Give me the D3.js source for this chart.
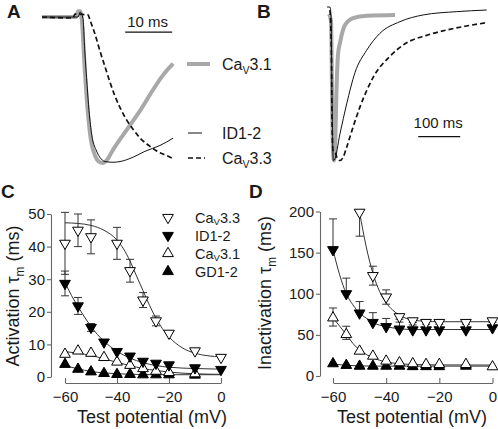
<!DOCTYPE html>
<html><head><meta charset="utf-8">
<script src="https://cdn.jsdelivr.net/npm/d3@7"></script>
<style>body{margin:0;background:#fff}svg{display:block}text{font-family:"Liberation Sans",Arial,Helvetica,sans-serif;fill:#1a1a1a}</style>
</head><body><svg id="c" width="498" height="429"></svg>
<script>
// ---------------- DATA ----------------
// Panel A: currents (time in ms, current normalised to peak)
const aCav31T = [0, 7.2, 7.7, 8.1, 8.5, 9.1, 9.8, 10.4, 11.3, 12.1, 13.0, 13.8, 15.1, 18.1, 20.9, 23.6, 25.7, 27.9];
const aCav31I = [0, 0, 0.04, 0.04, -0.03, -0.36, -0.67, -0.84, -0.95, -0.99, -1.0, -0.98, -0.91, -0.77, -0.64, -0.5, -0.4, -0.32];
const aId12T = [0, 7.7, 8.1, 8.7, 9.1, 9.6, 10.0, 10.6, 11.5, 12.3, 13.4, 15.1, 16.6, 19.4, 21.9, 25.1, 27.9];
const aId12I = [0, 0, 0.034, -0.007, -0.23, -0.47, -0.64, -0.81, -0.91, -0.96, -0.99, -0.995, -0.99, -0.96, -0.92, -0.88, -0.83];
const aCav33T = [0, 6.6, 7.0, 9.8, 10.2, 11.3, 12.3, 13.4, 14.5, 15.5, 16.6, 18.1, 19.4, 20.9, 22.3, 23.6, 25.1, 26.6, 27.9];
const aCav33I = [0, -0.007, 0.02, 0.014, -0.02, -0.12, -0.23, -0.34, -0.45, -0.54, -0.62, -0.71, -0.77, -0.83, -0.87, -0.90, -0.93, -0.95, -0.97];
const aScaleBar = [17.7, 27.7]; // 10 ms

// Panel B: currents (time in ms, normalised current)
const bCav31T = [-2.4, 2.4, 4.8, 7.1, 9.5, 11.9, 16, 19, 23.8, 35.7, 54.8, 88, 154.8];
const bCav31I = [-0.007, -0.05, -0.52, -0.92, -0.99, -0.92, -0.47, -0.28, -0.2, -0.08, -0.034, -0.018, -0.013];
const bId12T = [-7, 0, 2.4, 4.8, 7.9, 10.3, 23.8, 39.7, 59.5, 87.3, 119, 166.7, 222, 301.6, 373];
const bId12I = [0.04, 0.04, -0.02, -0.58, -0.99, -0.987, -0.81, -0.61, -0.40, -0.25, -0.136, -0.058, -0.013, 0.009, 0.02];
const bCav33T = [0, 3.6, 4.8, 7.1, 11.9, 16.7, 23.8, 31, 39.8, 55.5, 71.4, 87.4, 103, 142.9, 182.6, 230, 277.9, 325.5, 373];
const bCav33I = [0.02, -0.32, -0.72, -0.92, -0.93, -0.97, -0.99, -0.97, -0.90, -0.76, -0.63, -0.52, -0.43, -0.29, -0.20, -0.15, -0.114, -0.087, -0.065];
const bScaleBar = [210, 310]; // 100 ms

// Panel C: activation tau (ms) vs test potential (mV)
const cAllV = [-60, -55, -50, -45, -40, -35, -30, -25, -20, -10, 0];
const cCav33V = [-60, -55, -50, -40, -35, -30, -25, -20, -10, 0];
const cCav33 = [41, 45, 43, 41, 32.6, 23.6, 17.2, 13.4, 8, 6];
const cCav33Err = [9.5, 5, 5.2, 4.9, 3.5, 2.3, 1.5, 0, 0, 0];
const cId12 = [28.7, 21.8, 15.2, 10.7, 7.8, 6.4, 4.8, 4.2, 3.7, 2.8, 2.3];
const cId12Err = [3.8, 2.6, 1.2, 0, 0, 0, 0, 0, 0, 0, 0];
const cCav31V = [-60, -55, -50, -45, -40, -35, -30, -25, -20, -10];
const cCav31 = [7, 8, 7.3, 6, 4.6, 3.6, 2.6, 1.8, 1.4, 1.0];
const cGd12V = [-60, -55, -50, -45, -40, -35, -30, -25, -20, -10];
const cGd12 = [3.9, 2.4, 1.6, 1.1, 0.8, 0.8, 0.7, 0.7, 0.7, 0.6];
// fitted curves
const cFitCav33V = [-60, -55, -50, -45, -40, -37.5, -35, -32.5, -30, -27.5, -25, -22.5, -20, -15, -10, -5, 0];
const cFitCav33 = [47.3, 47.1, 46.5, 45, 42, 39.3, 35.6, 31, 26.5, 22, 18, 14.8, 12.3, 9, 7.3, 6.5, 6.2];
const cFitId12V = [-60, -57.5, -55, -52.5, -50, -47.5, -45, -42.5, -40, -35, -30, -25, -20, -10, 0];
const cFitId12 = [29, 25, 21.6, 18.4, 15.5, 13, 11, 9.3, 7.9, 5.8, 4.4, 3.5, 3, 2.6, 2.4];
const cFitCav31V = [-60, -55, -50, -45, -40, -35, -30, -25, -20, -10, 0];
const cFitCav31 = [7.8, 7.3, 6.6, 5.6, 4.5, 3.5, 2.6, 2.0, 1.5, 1.0, 0.8];
const cFitGd12V = [-60, -55, -50, -45, -40, -35, -30, -20, 0];
const cFitGd12 = [3.5, 2.5, 1.7, 1.25, 1.0, 0.85, 0.75, 0.7, 0.7];
const cYTicks = [0, 10, 20, 30, 40, 50];
const cXTicks = [-60, -40, -20, 0];

// Panel D: inactivation tau (ms) vs test potential (mV)
const dAllV = [-60, -55, -50, -45, -40, -35, -30, -25, -20, -10, 0];
const dCav33V = [-50, -45, -40, -35, -30, -25, -20, -10, 0];
const dCav33 = [199, 122, 96, 72, 67, 65, 65, 65, 67];
const dCav33ErrHi = [0, 11.5, 8.7, 3, 2, 2, 2, 2, 2];
const dCav33ErrLo = [29, 11.5, 8.7, 3, 2, 2, 2, 2, 2];
const dId12 = [153.5, 100, 76.5, 65, 60, 57, 56, 56, 56, 56, 58.5];
const dId12ErrHi = [37.5, 19, 14, 12, 10, 8.5, 6, 0, 0, 0, 0];
const dCav31 = [70.7, 50.5, 30.3, 24.2, 18.2, 16.2, 15, 14.1, 14.1, 14.1, 11.3];
const dCav31ErrHi = [12, 10, 0, 0, 0, 0, 0, 0, 0, 0, 0];
const dCav31ErrLo = [10, 6, 0, 0, 0, 0, 0, 0, 0, 0, 0];
const dGd12V = [-60, -55, -50, -45, -40, -35, -30, -25, -20, -10];
const dGd12 = [15, 13, 12, 12, 12, 12, 11.5, 11.5, 11.5, 12];
const dFitCav33V = [-50, -47.5, -45, -42.5, -40, -37.5, -35, -30, -25, -20, -10, 0];
const dFitCav33 = [199, 157, 125, 103, 89, 80, 74, 68, 66.5, 66, 66, 66];
const dFitId12V = [-60, -57.5, -55, -52.5, -50, -47.5, -45, -40, -35, -30, -20, 0];
const dFitId12 = [153.5, 123, 100, 86.5, 76.5, 70.4, 65, 60, 57.5, 56.5, 56.5, 56.5];
const dFitCav31V = [-60, -57.5, -55, -52.5, -50, -47.5, -45, -40, -35, -30, -20, 0];
const dFitCav31 = [70.7, 60.6, 50.5, 39.6, 31.5, 26.3, 22.2, 17, 15, 14, 13.5, 13.3];
const dFitGd12V = [-60, -55, -50, -45, -40, -30, -20, 0];
const dFitGd12 = [14.5, 13, 12.3, 12, 12, 12, 12, 12];
const dYTicks = [0, 50, 100, 150, 200];
const dXTicks = [-60, -40, -20, 0];

// ---------------- DRAWING ----------------
const svg = d3.select("#c");
const GRAY = "#a8a8a8", AX = "#666";
const sGray = {stroke: GRAY, w: 4, dash: null};
const sThin = {stroke: "#111", w: 1, dash: null};
const sDash = {stroke: "#111", w: 1.7, dash: "5,3"};

function trace(xs, ys, xS, yS, st) {
  const idx = d3.range(xs.length);
  svg.append("path")
    .attr("d", d3.line().x(i => xS(xs[i])).y(i => yS(ys[i])).curve(d3.curveMonotoneX)(idx))
    .attr("fill", "none").attr("stroke", st.stroke).attr("stroke-width", st.w)
    .attr("stroke-dasharray", st.dash).attr("stroke-linejoin", "round");
}
function sub(t, parts, fs, shift) {
  const sh = shift || fs * 0.28;
  parts.forEach(p => {
    const ts = t.append("tspan").text(p[0]);
    if (p[1]) ts.attr("font-size", fs * 0.66).attr("dy", sh);
    else if (p[2]) ts.attr("dy", -sh);
  });
}
function label(x, y, txt) {
  svg.append("text").attr("x", x).attr("y", y).attr("font-size", 19).attr("font-weight", "bold").text(txt);
}

// ---- Panel A
const xA = d3.scaleLinear().domain([0, 28]).range([42, 173.6]);
const yA = d3.scaleLinear().domain([-1, 0]).range([163, 17]);
trace(aCav31T, aCav31I, xA, yA, sGray);
trace(aId12T, aId12I, xA, yA, sThin);
trace(aCav33T, aCav33I, xA, yA, sDash);
svg.append("line").attr("x1", xA(aScaleBar[0])).attr("x2", xA(aScaleBar[1]))
  .attr("y1", yA(-0.103)).attr("y2", yA(-0.103)).attr("stroke", "#111").attr("stroke-width", 1.2);
svg.append("text").attr("x", (xA(aScaleBar[0]) + xA(aScaleBar[1])) / 2 - 1).attr("y", 27)
  .attr("text-anchor", "middle").attr("font-size", 15).text("10 ms");
label(7, 18, "A");
// legend A
const aLeg = [
  {st: sGray, x1: 187, x2: 210, y: 64, parts: [["Ca"], ["V", true], ["3.1", false, true]]},
  {st: sThin, x1: 188, x2: 202, y: 133, parts: [["ID1-2"]]},
  {st: sDash, x1: 188, x2: 205, y: 158, parts: [["Ca"], ["V", true], ["3.3", false, true]]}
];
aLeg.forEach(l => {
  svg.append("line").attr("x1", l.x1).attr("x2", l.x2).attr("y1", l.y).attr("y2", l.y)
    .attr("stroke", l.st.stroke).attr("stroke-width", l.st.w).attr("stroke-dasharray", l.st.dash);
  const t = svg.append("text").attr("x", 222).attr("y", l.y + 6).attr("font-size", 16);
  sub(t, l.parts, 16);
});

// ---- Panel B
const xB = d3.scaleLinear().domain([0, 375]).range([330, 487.5]);
const yB = d3.scaleLinear().domain([-1, 0]).range([162, 13]);
trace(bCav31T, bCav31I, xB, yB, sGray);
trace(bId12T, bId12I, xB, yB, sThin);
trace(bCav33T, bCav33I, xB, yB, sDash);
svg.append("line").attr("x1", xB(bScaleBar[0])).attr("x2", xB(bScaleBar[1]))
  .attr("y1", yB(-0.83)).attr("y2", yB(-0.83)).attr("stroke", "#111").attr("stroke-width", 1.2);
svg.append("text").attr("x", (xB(bScaleBar[0]) + xB(bScaleBar[1])) / 2 - 1).attr("y", 128)
  .attr("text-anchor", "middle").attr("font-size", 15).text("100 ms");
label(257, 18, "B");

// ---- scatter panels
const TRI = 50;
function axes(xS, yS, yAxisX, xAxisY, yTicks, xTicks) {
  const gy = svg.append("g").attr("transform", `translate(${yAxisX},0)`)
    .call(d3.axisLeft(yS).tickValues(yTicks).tickSize(4).tickSizeOuter(0).tickPadding(2));
  const gx = svg.append("g").attr("transform", `translate(0,${xAxisY})`)
    .call(d3.axisBottom(xS).tickValues(xTicks).tickSize(-5).tickSizeOuter(0).tickPadding(8));
  [gy, gx].forEach(g => {
    g.selectAll("path,line").attr("stroke", AX).attr("stroke-width", 1.1);
    g.selectAll("text").attr("font-size", 15).attr("fill", "#1a1a1a")
      .attr("font-family", '"Liberation Sans",Arial,sans-serif');
  });
}
function fit(xs, ys, xS, yS) {
  const idx = d3.range(xs.length);
  svg.append("path").attr("d", d3.line().x(i => xS(xs[i])).y(i => yS(ys[i])).curve(d3.curveMonotoneX)(idx))
    .attr("fill", "none").attr("stroke", "#333").attr("stroke-width", 1);
}
function errs(xs, ys, hi, lo, xS, yS) {
  xs.forEach((x, i) => {
    const h = hi ? hi[i] : 0, l = lo ? lo[i] : 0;
    if (!h && !l) return;
    const px = xS(x);
    const top = yS(ys[i] + h), bot = yS(ys[i] - l);
    svg.append("line").attr("x1", px).attr("x2", px).attr("y1", top).attr("y2", bot)
      .attr("stroke", "#333").attr("stroke-width", 1);
    if (h) svg.append("line").attr("x1", px - 4).attr("x2", px + 4).attr("y1", top).attr("y2", top).attr("stroke", "#333");
    if (l) svg.append("line").attr("x1", px - 4).attr("x2", px + 4).attr("y1", bot).attr("y2", bot).attr("stroke", "#333");
  });
}
const sym = d3.symbol().type(d3.symbolTriangle).size(TRI);
function marks(xs, ys, xS, yS, down, filled) {
  xs.forEach((x, i) => {
    svg.append("path").attr("d", sym())
      .attr("transform", `translate(${xS(x)},${yS(ys[i])})${down ? " rotate(180)" : ""}`)
      .attr("fill", filled ? "#000" : "#fff").attr("stroke", "#000").attr("stroke-width", 1);
  });
}

// ---- Panel C
const xC = d3.scaleLinear().domain([-60, 0]).range([65, 221]);
const yC = d3.scaleLinear().domain([0, 50]).range([377, 214]);
axes(xC, yC, 51, 383, cYTicks, cXTicks);
fit(cFitCav33V, cFitCav33, xC, yC);
fit(cFitId12V, cFitId12, xC, yC);
fit(cFitCav31V, cFitCav31, xC, yC);
fit(cFitGd12V, cFitGd12, xC, yC);
errs(cCav33V, cCav33, cCav33Err, cCav33Err, xC, yC);
errs(cAllV, cId12, cId12Err, cId12Err, xC, yC);
marks(cGd12V, cGd12, xC, yC, false, true);
marks(cCav31V, cCav31, xC, yC, false, false);
marks(cAllV, cId12, xC, yC, true, true);
marks(cCav33V, cCav33, xC, yC, true, false);
label(1, 198, "C");
// legend C
const cLeg = [
  {down: true, filled: false, y: 217.5, parts: [["Ca"], ["V", true], ["3.3", false, true]]},
  {down: true, filled: true, y: 235.5, parts: [["ID1-2"]]},
  {down: false, filled: false, y: 253.5, parts: [["Ca"], ["V", true], ["3.1", false, true]]},
  {down: false, filled: true, y: 271.5, parts: [["GD1-2"]]}
];
cLeg.forEach(l => {
  svg.append("path").attr("d", sym()).attr("transform", `translate(168,${l.y})${l.down ? " rotate(180)" : ""}`)
    .attr("fill", l.filled ? "#000" : "#fff").attr("stroke", "#000");
  const t = svg.append("text").attr("x", 195).attr("y", l.y + 5.5).attr("font-size", 14.5);
  sub(t, l.parts, 14.5, 2.4);
});
// axis titles C
svg.append("text").attr("x", 152).attr("y", 423).attr("text-anchor", "middle").attr("font-size", 18).text("Test potential (mV)");
{
  const t = svg.append("text").attr("transform", "translate(19,296) rotate(-90)").attr("text-anchor", "middle").attr("font-size", 18);
  sub(t, [["Activation  τ"], ["m", true], [" (ms)", false, true]], 18);
}

// ---- Panel D
const xD = d3.scaleLinear().domain([-60, 0]).range([333, 492.5]);
const yD = d3.scaleLinear().domain([0, 200]).range([376, 211.5]);
axes(xD, yD, 320, 383, dYTicks, dXTicks);
fit(dFitCav33V, dFitCav33, xD, yD);
fit(dFitId12V, dFitId12, xD, yD);
fit(dFitCav31V, dFitCav31, xD, yD);
fit(dFitGd12V, dFitGd12, xD, yD);
errs(dCav33V, dCav33, dCav33ErrHi, dCav33ErrLo, xD, yD);
errs(dAllV, dId12, dId12ErrHi, null, xD, yD);
errs(dAllV, dCav31, dCav31ErrHi, dCav31ErrLo, xD, yD);
marks(dGd12V, dGd12, xD, yD, false, true);
marks(dAllV, dCav31, xD, yD, false, false);
marks(dAllV, dId12, xD, yD, true, true);
marks(dCav33V, dCav33, xD, yD, true, false);
label(249, 198, "D");
svg.append("text").attr("x", 412).attr("y", 423).attr("text-anchor", "middle").attr("font-size", 18).text("Test potential (mV)");
{
  const t = svg.append("text").attr("transform", "translate(271,293) rotate(-90)").attr("text-anchor", "middle").attr("font-size", 18);
  sub(t, [["Inactivation  τ"], ["m", true], [" (ms)", false, true]], 18);
}
</script>
</body></html>
